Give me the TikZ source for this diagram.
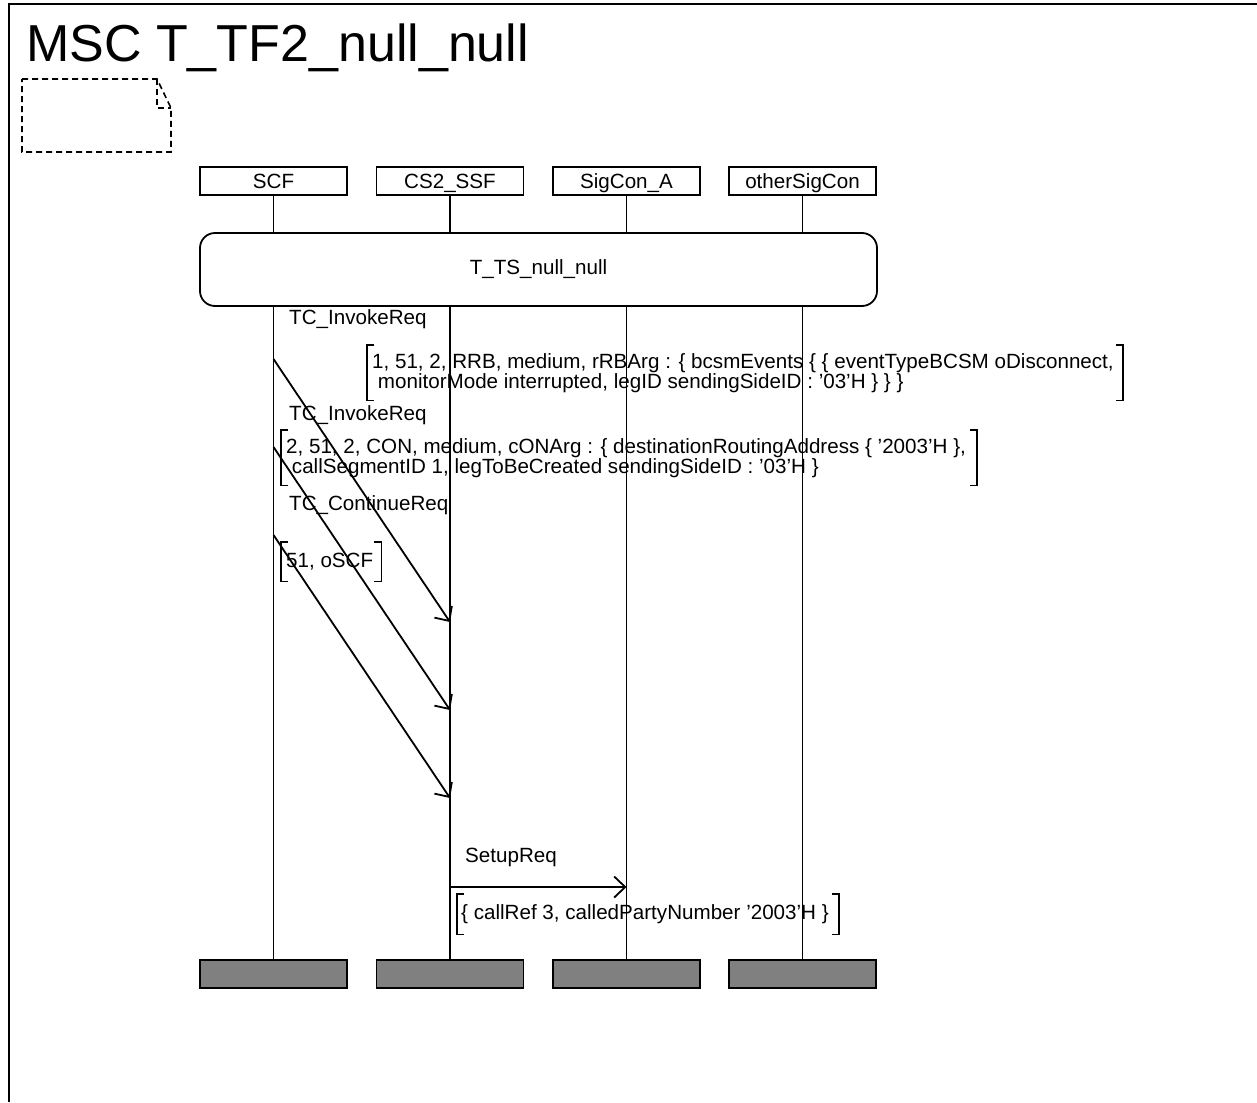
\documentclass[tikz,border=0pt]{standalone}
\usepackage{fontspec}
\setmainfont{Liberation Sans}
\usetikzlibrary{arrows.meta}

\newcommand\msctext{\fontsize{20.6}{20}\selectfont}
% square brackets round a parameter node
\newcommand\parambrk[1]{%
  \draw[line width=1.8pt] ([xshift=7pt]#1.north west) -- (#1.north west) -- (#1.south west) -- ([xshift=7pt]#1.south west);
  \draw[line width=1.8pt] ([xshift=-7pt]#1.north east) -- (#1.north east) -- (#1.south east) -- ([xshift=-7pt]#1.south east);}

\tikzset{
  inst/.style={draw, line width=1.8pt, minimum width=147pt, minimum height=28pt, inner sep=0pt, text height=16pt, text depth=0pt, font=\msctext},
  instend/.style={draw, line width=1.8pt, fill=black!50, minimum width=147pt, minimum height=28pt, inner sep=0pt},
  life/.style={line width=1.8pt},
  msg/.style={line width=1.8pt, -{Straight Barb[length=11pt,width=21pt,line width=1.8pt]}},
  lbl/.style={anchor=base west, inner sep=0pt, font=\msctext},
  param/.style={anchor=north west, align=left, inner xsep=5pt, inner ysep=0pt, font=\msctext},
}

\begin{document}
\begin{tikzpicture}[x=1pt, y=-1pt]
    \useasboundingbox (0,0) rectangle (1257,1102);
    %%%%%%%%%%%%%%%%%%%%%%%%%%%%%%%%%%%%%%%%%%%%%%
    % Frame, title and comment symbol
    %%%%%%%%%%%%%%%%%%%%%%%%%%%%%%%%%%%%%%%%%%%%%%
    \draw[line width=2.5pt] (9,1102) -- (9,4) -- (1257,4);
    \node[anchor=base west, inner sep=0pt, font=\fontsize{52}{52}\selectfont] (title) at (26,62) {MSC T\_TF2\_null\_null};
    \draw[line width=1.6pt, dash pattern=on 6pt off 4pt] (22,79) -- (157,79) -- (171,108) -- (171,152) -- (22,152) -- cycle;
    \draw[line width=1.6pt, dash pattern=on 6pt off 4pt] (157,79) -- (157,108) -- (171,108);

    %%%%%%%%%%%%%%%%%%%%%%%%%%%%%%%%%%%%%%%%%%%%%%
    % Instances
    %%%%%%%%%%%%%%%%%%%%%%%%%%%%%%%%%%%%%%%%%%%%%%
    \node[inst] (scf) at (273.5,181) {SCF};
    \node[inst] (ssf) at (450,181) {CS2\_SSF};
    \node[inst] (sigA) at (626.5,181) {SigCon\_A};
    \node[inst] (other) at (802.5,181) {otherSigCon};

    \node[instend] (scfend) at (273.5,974) {};
    \node[instend] (ssfend) at (450,974) {};
    \node[instend] (sigAend) at (626.5,974) {};
    \node[instend] (otherend) at (802.5,974) {};

    % Lifelines
    \draw[life] (scf) -- (scfend);
    \draw[life] (ssf) -- (ssfend);
    \draw[life] (sigA) -- (sigAend);
    \draw[life] (other) -- (otherend);

    % Reference
    \node[draw, line width=1.8pt, rounded corners=15pt, fill=white, minimum width=677pt, minimum height=73pt, font=\msctext] (ref) at (538.5,269.5) {T\_TS\_null\_null};

    %%%%%%%%%%%%%%%%%%%%%%%%%%%%%%%%%%%%%%%%%%%%%%
    % Messages SCF -> CS2_SSF
    %%%%%%%%%%%%%%%%%%%%%%%%%%%%%%%%%%%%%%%%%%%%%%
    \coordinate (m1a) at (scf |- 0,359);
    \coordinate (m1b) at (ssf |- 0,622);
    \coordinate (m2a) at (scf |- 0,447);
    \coordinate (m2b) at (ssf |- 0,710);
    \coordinate (m3a) at (scf |- 0,535);
    \coordinate (m3b) at (ssf |- 0,798);
    \draw[msg] (m1a) -- (m1b);
    \draw[msg] (m2a) -- (m2b);
    \draw[msg] (m3a) -- (m3b);

    \node[lbl] (l1) at (289,324) {TC\_InvokeReq};
    \node[param, minimum height=55pt] (p1) at (367,345) {1, 51, 2, RRB, medium, rRBArg : \{ bcsmEvents \{ \{ eventTypeBCSM oDisconnect,\hspace*{4pt}\\\hspace*{0.28em}monitorMode interrupted, legID sendingSideID : '03'H \} \} \}};
    \parambrk{p1}

    \node[lbl] (l2) at (289,420) {TC\_InvokeReq};
    \node[param, minimum height=55pt] (p2) at (281,430) {2, 51, 2, CON, medium, cONArg : \{ destinationRoutingAddress \{ '2003'H \},\hspace*{6pt}\\\hspace*{0.28em}callSegmentID 1, legToBeCreated sendingSideID : '03'H \}};
    \parambrk{p2}

    \node[lbl] (l3) at (289,510) {TC\_ContinueReq};
    \node[param, minimum height=39pt] (p3) at (281,542) {51, oSCF\hspace*{3pt}};
    \parambrk{p3}

    %%%%%%%%%%%%%%%%%%%%%%%%%%%%%%%%%%%%%%%%%%%%%%
    % Message CS2_SSF -> SigCon_A
    %%%%%%%%%%%%%%%%%%%%%%%%%%%%%%%%%%%%%%%%%%%%%%
    \coordinate (m4a) at (ssf |- 0,887);
    \coordinate (m4b) at (sigA |- 0,887);
    \draw[msg] (m4a) -- (m4b);
    \node[lbl] (l4) at (465,862) {SetupReq};
    \node[param, minimum height=40pt, inner xsep=4pt] (p4) at (457,894) {\{ callRef 3, calledPartyNumber '2003'H \}\hspace*{6pt}};
    \parambrk{p4}
\end{tikzpicture}
\end{document}
